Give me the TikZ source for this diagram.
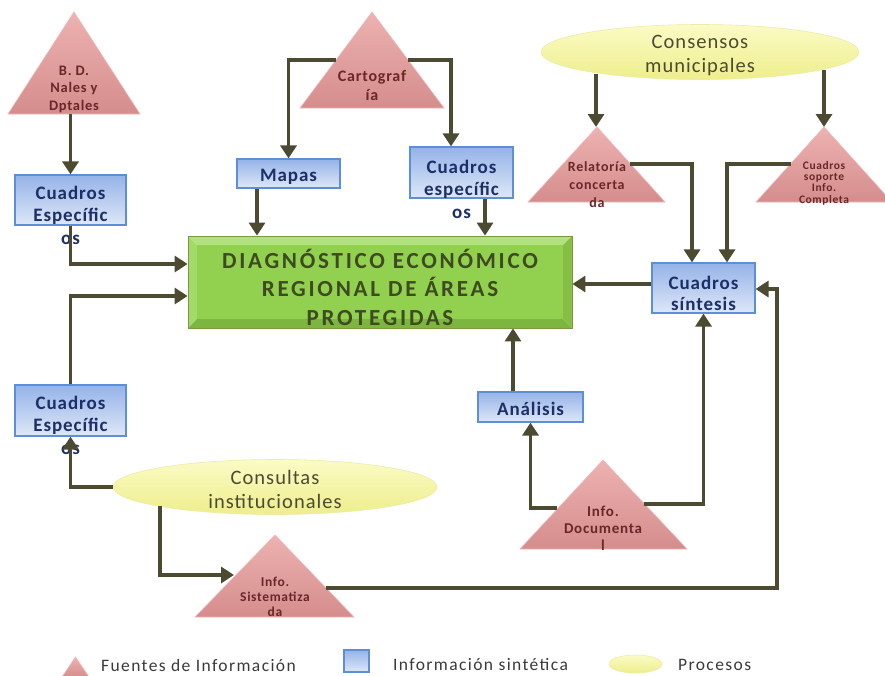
\documentclass[tikz,border=0pt]{standalone}
\usepackage{fontspec}
\setmainfont{Carlito}[LetterSpace=5]
\newfontfamily\gfont{Carlito}[LetterSpace=12]
\newfontfamily\efont{Carlito}[LetterSpace=5]
\newfontfamily\lfont{Carlito}[LetterSpace=8]
\usetikzlibrary{arrows.meta,shapes.geometric}
\definecolor{arr}{HTML}{4D4A32}
\definecolor{trtop}{HTML}{EDB2B1}
\definecolor{trbot}{HTML}{D48D8C}
\definecolor{trdraw}{HTML}{F0B8B8}
\definecolor{trtxt}{HTML}{6A2727}
\definecolor{bxtop}{HTML}{95B3E8}
\definecolor{bxbot}{HTML}{DEE7F7}
\definecolor{bxdraw}{HTML}{5D8FD8}
\definecolor{bxtxt}{HTML}{1C2F66}
\definecolor{grn}{HTML}{92D050}
\definecolor{grnA}{HTML}{B2E27F}
\definecolor{grnB}{HTML}{A3DA68}
\definecolor{grnC}{HTML}{7DB541}
\definecolor{grnD}{HTML}{86BE46}
\definecolor{grndraw}{HTML}{7A9A40}
\definecolor{grntxt}{HTML}{3E4A20}
\definecolor{ylwtop}{HTML}{FBFBC6}
\definecolor{ylwbot}{HTML}{EEEE8C}
\definecolor{ylwdraw}{HTML}{ECECA8}
\definecolor{eltxt}{HTML}{4C4A33}
\definecolor{legtxt}{HTML}{3A3A3A}
\tikzset{
  conn/.style={draw=arr, line width=3.5pt, -{Triangle[width=16pt,length=13pt]}},
  tri/.style={top color=trtop, bottom color=trbot, draw=trdraw, line width=0.6pt},
  bx/.style={rectangle, top color=bxtop, bottom color=bxbot, draw=bxdraw, line width=1.2pt, inner sep=0pt},
  ell/.style={ellipse, top color=ylwtop, bottom color=ylwbot, draw=ylwdraw, line width=0.6pt, inner sep=0pt},
  bxtxt/.style={text=bxtxt, font=\fontsize{19}{22.5}\selectfont\bfseries, align=center, inner sep=0pt},
  tritxt/.style={text=trtxt, align=center, inner sep=0pt},
  eltext/.style={text=eltxt, font=\efont\fontsize{20.5}{24}\selectfont, align=center, inner sep=0pt},
  legtext/.style={text=legtxt, font=\lfont\fontsize{17.5}{19}\selectfont, anchor=west, inner sep=0pt},
}
\begin{document}
\begin{tikzpicture}[x=1pt,y=-1pt]
\useasboundingbox (0,0) rectangle (885,675);
\fill[white] (0,0) rectangle (885,675);

% ---- triangles (Fuentes de informacion)
\path[tri] (8,114) -- (74,12) -- (140,114) -- cycle;
\coordinate (bd-b) at (70.5,114);
\node[tritxt, font=\fontsize{14.5}{17.5}\selectfont\bfseries] (bdt) at (74,89) {B. D.\\Nales y\\Dptales};

\path[tri] (300,108) -- (372,12) -- (444,108) -- cycle;
\coordinate (carto-l) at (336,60);
\coordinate (carto-r) at (408,60);
\node[tritxt, font=\fontsize{16}{19}\selectfont\bfseries] (cartot) at (372,85) {Cartograf\\ía};

\path[tri] (528,202) -- (597,127) -- (665,202) -- cycle;
\coordinate (rel-a) at (596,127);
\coordinate (rel-r) at (630,164);
\node[tritxt, font=\fontsize{14}{18}\selectfont\bfseries] (relt) at (597,185) {Relatoría\\concerta\\da};

\path[tri] (756,202) -- (824,127) -- (892,202) -- cycle;
\coordinate (sop-a) at (824,127);
\coordinate (sop-l) at (791,164);
\node[tritxt, font=\fontsize{11.5}{11.3}\selectfont\bfseries] (sopt) at (824,183) {Cuadros\\soporte\\Info.\\Completa};

\path[tri] (520,549) -- (603,460) -- (687,549) -- cycle;
\coordinate (doc-l) at (557,508);
\coordinate (doc-r) at (644,504);
\node[tritxt, font=\fontsize{15}{17}\selectfont\bfseries] (doct) at (603,528) {Info.\\Documenta\\l};

\path[tri] (195,617) -- (275,535) -- (354,617) -- cycle;
\coordinate (sis-l) at (234,575);
\coordinate (sis-r) at (326,588);
\node[tritxt, font=\fontsize{13.5}{15}\selectfont\bfseries] (sist) at (275,597) {Info.\\Sistematiza\\da};

% ---- green box
\fill[grnA] (188,236) -- (572,236) -- (563,245) -- (197,245) -- cycle;
\fill[grnB] (188,236) -- (197,245) -- (197,319) -- (188,328) -- cycle;
\fill[grnC] (188,328) -- (572,328) -- (563,319) -- (197,319) -- cycle;
\fill[grnD] (572,236) -- (572,328) -- (563,319) -- (563,245) -- cycle;
\fill[grn] (197,245) rectangle (563,319);
\node[draw=grndraw, line width=0.8pt, minimum width=384pt, minimum height=92pt, inner sep=0pt] (diag) at (380,282) {};
\node[text=grntxt, font=\gfont\fontsize{23}{28.5}\selectfont\bfseries, align=center, inner sep=0pt] (diagt) at (380,287) {DIAGNÓSTICO ECONÓMICO\\REGIONAL DE ÁREAS\\PROTEGIDAS};

% ---- blue boxes
\node[bx, minimum width=111pt, minimum height=50pt] (ce1) at (70.5,200) {};
\node[bxtxt] (ce1t) at (70.5,215) {Cuadros\\Específic\\os};

\node[bx, minimum width=103pt, minimum height=29pt] (mapas) at (288.5,173.5) {};
\node[bxtxt] (mapast) at (288.5,177) {Mapas};

\node[bx, minimum width=103pt, minimum height=51pt] (ce2) at (461.5,172.5) {};
\node[bxtxt] (ce2t) at (461.5,189) {Cuadros\\específic\\os};

\node[bx, minimum width=103pt, minimum height=50pt] (sint) at (703.5,288) {};
\node[bxtxt, font=\fontsize{19}{21}\selectfont\bfseries] (sintt) at (703.5,293) {Cuadros\\síntesis};

\node[bx, minimum width=105pt, minimum height=30pt] (ana) at (530.5,407) {};
\node[bxtxt] (anat) at (530.5,409) {Análisis};

\node[bx, minimum width=111pt, minimum height=51pt] (ce3) at (70.5,410.5) {};
\node[bxtxt] (ce3t) at (70.5,425) {Cuadros\\Específic\\os};

% ---- ellipses (procesos)
\node[ell, minimum width=318pt, minimum height=55pt] (cons) at (700,52) {};
\node[eltext] (const) at (700,55) {Consensos\\municipales};
\coordinate (cons-l) at (596,74);
\coordinate (cons-r) at (824,70);

\node[ell, minimum width=324pt, minimum height=55pt] (consu) at (275,487) {};
\node[eltext] (consut) at (275,489) {Consultas\\institucionales};
\coordinate (consu-b) at (160,506);

\coordinate (loopc) at (777,289);

% ---- connectors
\draw[conn] (bd-b) -- (ce1.north);
\draw[conn] (ce1.south) |- ([yshift=18pt]diag.west);
\draw[conn] (ce3.north) |- ([yshift=-14pt]diag.west);
\draw[conn] (carto-l) -| (mapas.north);
\draw[conn] (carto-r) -| ([xshift=-10.5pt]ce2.north);
\draw[conn] ([xshift=-31.5pt]mapas.south) -- ([xshift=-31.5pt]mapas.south |- diag.north);
\draw[conn] ([xshift=23.5pt]ce2.south) -- ([xshift=23.5pt]ce2.south |- diag.north);
\draw[conn] (cons-l) -- (rel-a);
\draw[conn] (cons-r) -- (sop-a);
\draw[conn] (rel-r) -| ([xshift=-11.5pt]sint.north);
\draw[conn] (sop-l) -| ([xshift=23.5pt]sint.north);
\draw[conn] ([yshift=4pt]sint.west) -- ([yshift=4pt]sint.west -| diag.east);
\draw[conn] (sis-r) -| (loopc) -- (loopc -| sint.east);
\draw[conn] (doc-r) -| (sint.south);
\draw[conn] ([xshift=-17.5pt]ana.north) -- ([xshift=-17.5pt]ana.north |- diag.south);
\draw[conn] (doc-l) -| (ana.south);
\draw[conn] (consu.west) -| (ce3.south);
\draw[conn] (consu-b) |- (sis-l);

% ---- legend
\path[tri] (62,677) -- (75.5,657) -- (89,677) -- cycle;
\node[legtext] (leg1) at (101,665) {Fuentes de Información};
\node[bx, minimum width=25pt, minimum height=22pt] (legbox) at (356.5,661) {};
\node[legtext] (leg2) at (393,665) {Información sintética};
\node[ell, minimum width=53pt, minimum height=18pt] (legell) at (635.5,664) {};
\node[legtext] (leg3) at (678,665) {Procesos};
\end{tikzpicture}
\end{document}
